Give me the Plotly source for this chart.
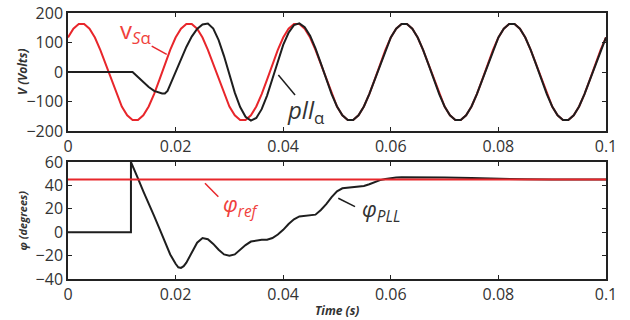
import plotly.graph_objects as go

# ---------------- data ----------------
x_ticks = [0, 0.02, 0.04, 0.06, 0.08, 0.1]
x_ticktext = ["0", "0.02", "0.04", "0.06", "0.08", "0.1"]
v_ticks = [-200, -100, 0, 100, 200]
phi_ticks = [-40, -20, 0, 20, 40, 60]

# time grid for the grid voltage (s)
t_grid = [round(i * 0.001, 3) for i in range(101)]

# grid voltage v_S alpha (V), read at every 1 ms
v_s = [117, 147, 163, 163, 147, 117, 75, 26, -26, -75, -117, -147, -163, -163, -147, -117, -75, -26, 26, 75,
       117, 147, 163, 163, 147, 117, 75, 26, -26, -75, -117, -147, -163, -163, -147, -117, -75, -26, 26, 75,
       117, 147, 163, 163, 147, 117, 75, 26, -26, -75, -117, -147, -163, -163, -147, -117, -75, -26, 26, 75,
       117, 147, 163, 163, 147, 117, 75, 26, -26, -75, -117, -147, -163, -163, -147, -117, -75, -26, 26, 75,
       117, 147, 163, 163, 147, 117, 75, 26, -26, -75, -117, -147, -163, -163, -147, -117, -75, -26, 26, 75,
       117]

# PLL output during the transient (V)
pll_t = [0, 0.012, 0.013, 0.014, 0.015, 0.016, 0.017, 0.0175, 0.018, 0.0185, 0.019, 0.0195,
         0.020, 0.021, 0.022, 0.023, 0.024, 0.025, 0.026, 0.027, 0.028, 0.029, 0.030, 0.031,
         0.032, 0.033, 0.034, 0.035, 0.036, 0.037, 0.038, 0.039, 0.040, 0.041, 0.042, 0.043,
         0.044, 0.045, 0.046, 0.047]
pll_v = [0, 0, -17, -35, -51, -64, -71, -73, -73, -64, -43, -21,
         1, 45, 85, 120, 146, 161, 164, 147, 108, 54, -9, -70,
         -119, -152, -165, -156, -126, -80, -23, 37, 92, 133, 159, 165,
         152, 123, 80, 29]
lock_index = 48  # from 48 ms on the PLL output lies on the grid voltage

# phase angles (degrees)
phi_ref_t = [0, 0.1]
phi_ref_v = [45, 45]
phi_t = [0, 0.0117, 0.0117, 0.012, 0.013, 0.014, 0.015, 0.016, 0.017, 0.018, 0.019,
         0.020, 0.0205, 0.021, 0.0215, 0.022, 0.023, 0.024, 0.025, 0.026, 0.027, 0.028, 0.029,
         0.030, 0.031, 0.032, 0.033, 0.034, 0.035, 0.036, 0.037, 0.038, 0.039,
         0.040, 0.041, 0.042, 0.043, 0.044, 0.045, 0.046, 0.047, 0.048, 0.049,
         0.050, 0.051, 0.052, 0.053, 0.054, 0.055, 0.056, 0.057, 0.058, 0.059,
         0.060, 0.061, 0.062, 0.063, 0.064, 0.067, 0.070, 0.075, 0.080, 0.085,
         0.090, 0.1]
phi_v = [0, 0, 60, 57, 46, 35, 25, 14, 3, -8, -19,
         -27, -30, -30.5, -29, -26, -17, -9, -5, -6, -10, -15, -19,
         -20, -19, -15, -11, -8, -7, -6.5, -6.5, -5, -2,
         2, 7, 11, 13.5, 14, 14, 15, 19, 24, 30,
         35, 37.5, 38, 38, 38.5, 39.5, 41, 43, 44.5, 45.5,
         46.3, 46.8, 47, 47, 47, 47, 46.8, 46.3, 45.6, 45.2,
         45, 45]

# ---------------- styles ----------------
RED = "#e8262b"
RED_TXT = "#f0413c"
BLACK = "#1e1e1e"
TXT = "#333333"
FONT = "Open Sans"

fig = go.Figure()

pll_t_full = pll_t + t_grid[lock_index:]
pll_v_full = pll_v + v_s[lock_index:]

fig.add_trace(go.Scatter(x=t_grid, y=v_s, mode="lines", line=dict(color=RED, width=2),
                         xaxis="x", yaxis="y", showlegend=False))
fig.add_trace(go.Scatter(x=pll_t_full, y=pll_v_full, mode="lines", line=dict(color=BLACK, width=2),
                         xaxis="x", yaxis="y", showlegend=False))
fig.add_trace(go.Scatter(x=phi_t, y=phi_v, mode="lines", line=dict(color=BLACK, width=2),
                         xaxis="x2", yaxis="y2", showlegend=False))
fig.add_trace(go.Scatter(x=phi_ref_t, y=phi_ref_v, mode="lines", line=dict(color=RED, width=2),
                         xaxis="x2", yaxis="y2", showlegend=False))

axis_common = dict(
    showgrid=False, zeroline=False, showline=True, linecolor="#222", linewidth=1.5,
    mirror="allticks", ticks="inside", ticklen=4, tickwidth=1, tickcolor="#222",
    tickfont=dict(family=FONT, size=16, color=TXT), automargin=False,
)

fig.update_layout(
    width=630, height=320,
    margin=dict(l=68, r=24, t=13, b=41, autoexpand=False),
    paper_bgcolor="white", plot_bgcolor="white",
    font=dict(family=FONT, color=TXT),
    xaxis=dict(domain=[0, 1], range=[0, 0.1], anchor="y", tickvals=x_ticks, ticktext=x_ticktext, **axis_common),
    yaxis=dict(domain=[0.5564, 1], range=[-200, 200], anchor="x", tickvals=v_ticks, **axis_common),
    xaxis2=dict(domain=[0, 1], range=[0, 0.1], anchor="y2", tickvals=x_ticks, ticktext=x_ticktext, **axis_common),
    yaxis2=dict(domain=[0, 0.4398], range=[-40, 60], anchor="x2", tickvals=phi_ticks, **axis_common),
)

# leader lines
lines = [
    ("x", "y", 0.01556, 88, 0.01835, 60, RED),
    ("x", "y", 0.0391, -10, 0.0422, -78, BLACK),
    ("x2", "y2", 0.02546, 41.8, 0.02794, 30.3, RED),
    ("x2", "y2", 0.05024, 29, 0.05335, 21.8, BLACK),
]
for xr, yr, x0, y0, x1, y1, c in lines:
    fig.add_shape(type="line", xref=xr, yref=yr, x0=x0, y0=y0, x1=x1, y1=y1,
                  line=dict(color=c, width=1.5))

# curve labels
fig.add_annotation(x=0.0126, y=138, xref="x", yref="y", text="v<sub><i>S</i>α</sub>",
                   xanchor="center", yanchor="middle",
                   showarrow=False, font=dict(family=FONT, size=24, color=RED_TXT))
fig.add_annotation(x=0.0442, y=-132, xref="x", yref="y", text="<i>pll</i><sub>α</sub>",
                   xanchor="center", yanchor="middle",
                   showarrow=False, font=dict(family=FONT, size=24, color=TXT))
fig.add_annotation(x=0.0321, y=23, xref="x2", yref="y2", text="<i>φ</i><sub><i>ref</i></sub>",
                   xanchor="center", yanchor="middle",
                   showarrow=False, font=dict(family=FONT, size=22, color=RED_TXT))
fig.add_annotation(x=0.0582, y=19, xref="x2", yref="y2", text="<i>φ</i><sub><i>PLL</i></sub>",
                   xanchor="center", yanchor="middle",
                   showarrow=False, font=dict(family=FONT, size=22, color=TXT))

# axis titles
fig.add_annotation(x=0, y=0.778, xref="paper", yref="paper", xshift=-46, text="<b><i>V (Volts)</i></b>",
                   xanchor="center", yanchor="middle",
                   textangle=-90, showarrow=False, font=dict(family=FONT, size=12, color=TXT))
fig.add_annotation(x=0, y=0.22, xref="paper", yref="paper", xshift=-46, text="<b><i>φ (degrees)</i></b>",
                   xanchor="center", yanchor="middle",
                   textangle=-90, showarrow=False, font=dict(family=FONT, size=11, color=TXT))
fig.add_annotation(x=0.5, y=0, xref="paper", yref="paper", yshift=-31, text="<b><i>Time (s)</i></b>",
                   xanchor="center", yanchor="middle",
                   showarrow=False, font=dict(family=FONT, size=12, color=TXT))

# place the figure at the page's top-left corner, without the mode bar
fig.write_html("out.html", config={"displayModeBar": False},
               post_script="document.body.style.margin = '0';")
